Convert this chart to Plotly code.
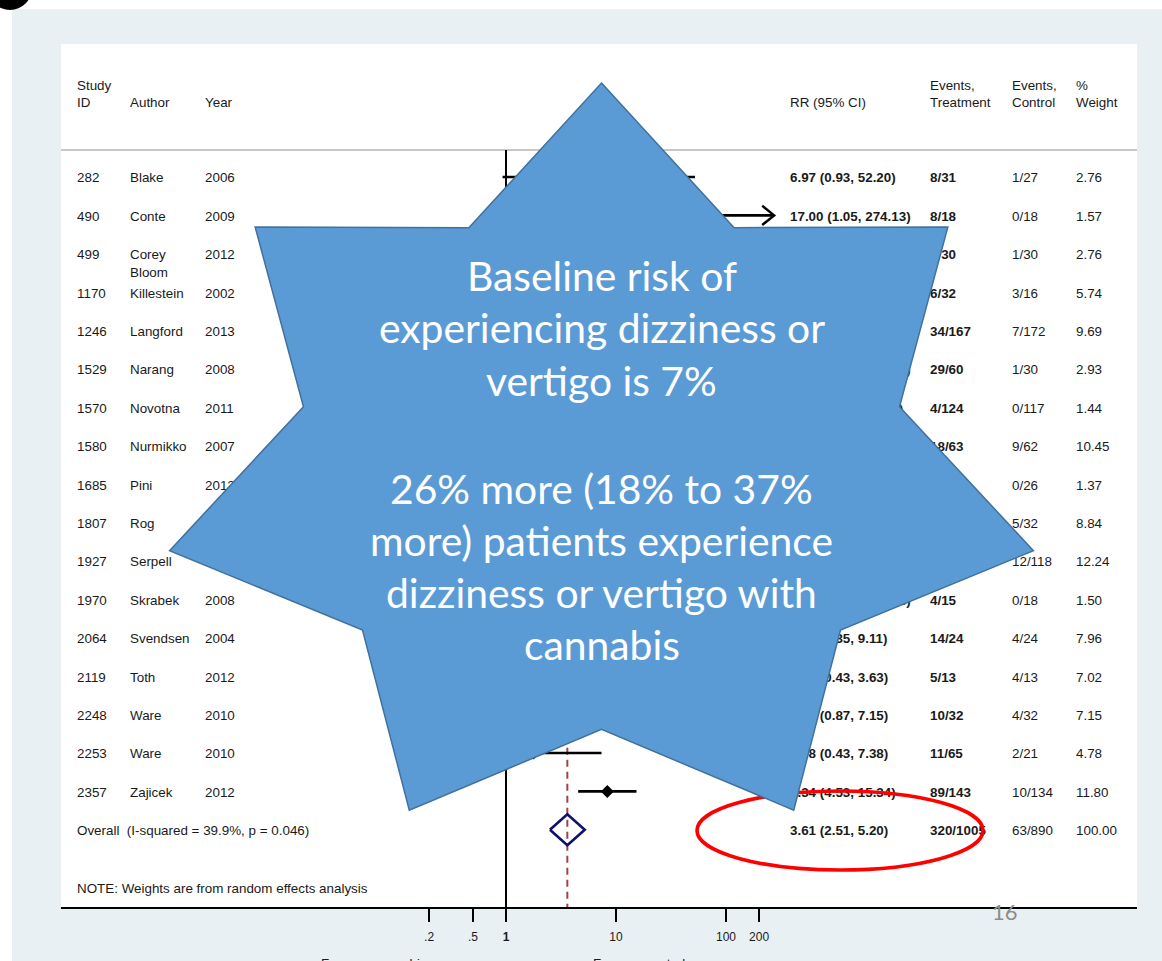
import math
import plotly.graph_objects as go

W, H = 1162, 961

# ---------------- data ----------------
study_ids = ["282", "490", "499", "1170", "1246", "1529", "1570", "1580", "1685",
             "1807", "1927", "1970", "2064", "2119", "2248", "2253", "2357"]
authors = ["Blake", "Conte", "Corey<br>Bloom", "Killestein", "Langford", "Narang",
           "Novotna", "Nurmikko", "Pini", "Rog", "Serpell", "Skrabek", "Svendsen",
           "Toth", "Ware", "Ware", "Zajicek"]
years = ["2006", "2009", "2012", "2002", "2013", "2008", "2011", "2007", "2012",
         "2005", "2014", "2008", "2004", "2012", "2010", "2010", "2012"]
rr = [6.97, 17.00, 8.00, 1.00, 5.00, 14.50, 8.50, 1.97, 5.00,
      3.39, 3.99, 10.69, 3.50, 1.25, 2.50, 1.78, 8.34]
ci_low = [0.93, 1.05, 1.07, 0.29, 2.28, 2.07, 0.46, 0.96, 0.25,
          1.43, 2.24, 0.62, 1.35, 0.43, 0.87, 0.43, 4.53]
ci_high = [52.20, 274.13, 60.08, 3.49, 10.97, 101.41, 156.14, 4.04, 99.35,
           8.05, 7.10, 183.88, 9.11, 3.63, 7.15, 7.38, 15.34]
ev_treat = ["8/31", "8/18", "8/30", "6/32", "34/167", "29/60", "4/124", "18/63", "2/26",
            "18/34", "52/128", "4/15", "14/24", "5/13", "10/32", "11/65", "89/143"]
ev_ctrl = ["1/27", "0/18", "1/30", "3/16", "7/172", "1/30", "0/117", "9/62", "0/26",
           "5/32", "12/118", "0/18", "4/24", "4/13", "4/32", "2/21", "10/134"]
weights = ["2.76", "1.57", "2.76", "5.74", "9.69", "2.93", "1.44", "10.45", "1.37",
           "8.84", "12.24", "1.50", "7.96", "7.02", "7.15", "4.78", "11.80"]

overall_label = "Overall  (I-squared = 39.9%, p = 0.046)"
overall_rr, overall_lo, overall_hi = 3.61, 2.51, 5.20
overall_treat, overall_ctrl, overall_weight = "320/1005", "63/890", "100.00"
note_text = "NOTE: Weights are from random effects analysis"

headers = ["Study<br>ID", "Author", "Year", "RR (95% CI)",
           "Events,<br>Treatment", "Events,<br>Control", "%<br>Weight"]

tick_vals = [0.2, 0.5, 1, 10, 100, 200]
tick_text = [".2", ".5", "<b>1</b>", "10", "100", "200"]

favours_left = "Favours cannabis"
favours_right = "Favours control"

star_lines = ["Baseline risk of", "experiencing dizziness or", "vertigo is 7%", "",
              "26% more (18% to 37%", "more) patients experience",
              "dizziness or vertigo with", "cannabis"]
page_number = "16"

# ---------------- geometry helpers ----------------
ROW0, ROWH = 177.0, 38.4      # pixel y of first study row, row spacing
PANEL_L, PANEL_R, PANEL_T, PANEL_B = 61, 1137, 44, 907
X_ONE_PX, DECADE_PX = 506.0, 110.0
FS = 13.4
LINE_PX = FS * 1.3
TXT = "#1a1a1a"
FONT = "Liberation Sans, Arial, sans-serif"
TEXT_SHIFT = 2.0 / ROWH       # nudge table text down to sit on the row centre


def row_of(py_):
    return (py_ - ROW0) / ROWH


def fx(x):
    return x / W


def fy(y):
    return 1 - y / H


x_r0 = -(X_ONE_PX - PANEL_L) / DECADE_PX
x_r1 = (PANEL_R - X_ONE_PX) / DECADE_PX
y_top, y_bot = row_of(PANEL_T), row_of(PANEL_B)

fig = go.Figure()

# null line at RR = 1
fig.add_trace(go.Scatter(x=[1, 1], y=[row_of(150), y_bot], mode="lines",
                         line=dict(color="black", width=2), hoverinfo="skip"))
# overall dashed line
fig.add_trace(go.Scatter(x=[overall_rr, overall_rr], y=[-0.45, y_bot], mode="lines",
                         line=dict(color="#a0424a", width=2, dash="7px,5px"),
                         hoverinfo="skip"))

# CI lines
n = len(rr)
max_tick = max(tick_vals)
for i in range(n):
    fig.add_trace(go.Scatter(x=[ci_low[i], ci_high[i]], y=[i, i], mode="lines",
                             line=dict(color="black", width=2.6), hoverinfo="skip"))
    if ci_high[i] > max_tick:
        k = 10 ** (12 / DECADE_PX)
        fig.add_trace(go.Scatter(x=[ci_high[i] / k, ci_high[i], ci_high[i] / k],
                                 y=[i - 0.25, i, i + 0.25], mode="lines",
                                 line=dict(color="black", width=2.4), hoverinfo="skip"))

# point estimates
fig.add_trace(go.Scatter(x=rr, y=list(range(n)), mode="markers",
                         marker=dict(symbol="diamond", size=10, color="black"),
                         hoverinfo="skip"))

# overall diamond
ov_row = n
dh = 15.5 / ROWH
fig.add_trace(go.Scatter(x=[overall_lo, overall_rr, overall_hi, overall_rr, overall_lo],
                         y=[ov_row, ov_row - dh, ov_row, ov_row + dh, ov_row],
                         mode="lines", line=dict(color="#10106e", width=2.6),
                         hoverinfo="skip"))

# ---------------- table text (scatter text on pixel-linear x2) ----------------
col_x = [77, 130, 205, 790, 930, 1012, 1076]


def centre(base_row, text, direction):
    nl = text.count("<br>") + 1
    return base_row + direction * (nl - 1) * LINE_PX / 2 / ROWH + TEXT_SHIFT


def add_text_col(xpx, texts, rows, bold=False):
    shown = [("<b>%s</b>" % t) if bold else t for t in texts]
    fig.add_trace(go.Scatter(x=[xpx] * len(texts), y=rows, text=shown, mode="text",
                             textposition="middle right", xaxis="x2", yaxis="y",
                             textfont=dict(family=FONT, size=FS, color=TXT),
                             hoverinfo="skip", cliponaxis=False))


hdr_row = row_of(102)
for cx, h in zip(col_x, headers):
    add_text_col(cx, [h], [centre(hdr_row, h, -1)])

body_cols = [study_ids, authors, years]
for cx, col in zip(col_x[:3], body_cols):
    add_text_col(cx, col, [centre(i, t, +1) for i, t in enumerate(col)])

rr_text = ["%.2f (%.2f, %.2f)" % (a, b, c) for a, b, c in zip(rr, ci_low, ci_high)]
rows_all = [i + TEXT_SHIFT for i in range(n + 1)]
add_text_col(col_x[3], rr_text + ["%.2f (%.2f, %.2f)" % (overall_rr, overall_lo, overall_hi)],
             rows_all, bold=True)
add_text_col(col_x[4], ev_treat + [overall_treat], rows_all, bold=True)
add_text_col(col_x[5], ev_ctrl + [overall_ctrl], rows_all)
add_text_col(col_x[6], weights + [overall_weight], rows_all)
add_text_col(col_x[0], [overall_label], [n + TEXT_SHIFT])
add_text_col(col_x[0], [note_text], [n + 1.5 + TEXT_SHIFT])

# ---------------- shapes ----------------
shapes = [
    dict(type="rect", xref="paper", yref="paper", x0=fx(12), x1=1.0, y0=0, y1=fy(9),
         fillcolor="#e9f0f3", line=dict(width=0), layer="below"),
    dict(type="rect", xref="paper", yref="paper", x0=fx(PANEL_L), x1=fx(PANEL_R),
         y0=fy(PANEL_B), y1=fy(PANEL_T), fillcolor="white", line=dict(width=0),
         layer="below"),
    dict(type="line", xref="paper", yref="paper", x0=fx(PANEL_L), x1=fx(PANEL_R),
         y0=fy(150), y1=fy(150), line=dict(color="#c8c8c8", width=2), layer="below"),
    dict(type="circle", xref="paper", yref="paper", x0=fx(697), x1=fx(983),
         y0=fy(870), y1=fy(791), line=dict(color="#ff0000", width=3.6), layer="above"),
]

# 7-point star callout
cxs, cys, Rx, Ry, ratio = 601.5, 465.5, 443.0, 382.5, 0.69
pts = []
for k in range(14):
    ang = math.radians(-90 + k * 180 / 7)
    f = 1.0 if k % 2 == 0 else ratio
    px_ = cxs + f * Rx * math.cos(ang)
    py_ = cys + f * Ry * math.sin(ang)
    pts.append("%.5f,%.5f" % (fx(px_), fy(py_)))
star_path = "M " + " L ".join(pts) + " Z"
shapes.append(dict(type="path", xref="paper", yref="paper", path=star_path,
                   fillcolor="#5b9bd5", line=dict(color="#41719c", width=1.5),
                   layer="above"))
shapes.append(dict(type="circle", xref="paper", yref="paper", x0=fx(-12), x1=fx(32),
                   y0=fy(10), y1=fy(-34), fillcolor="black", line=dict(width=0),
                   layer="above"))

# ---------------- annotations ----------------
annotations = []
star_y = [275, 327.5, 380, 432, 488.5, 540.5, 592, 644]
for t, yy in zip(star_lines, star_y):
    if not t:
        continue
    annotations.append(dict(x=fx(601.5), y=fy(yy), xref="paper", yref="paper",
                            text=t, showarrow=False, xanchor="center", yanchor="middle",
                            font=dict(family="Lato, Carlito, sans-serif", size=40.8,
                                      color="white")))
annotations.append(dict(x=fx(1005), y=fy(911), xref="paper", yref="paper",
                        text=page_number, showarrow=False, xanchor="center",
                        yanchor="middle",
                        font=dict(family="Lato, sans-serif", size=22, color="#8c8c8c")))
for t, xx in [(favours_left, 319), (favours_right, 591)]:
    annotations.append(dict(x=fx(xx), y=fy(954), xref="paper", yref="paper", text=t,
                            showarrow=False, xanchor="left", yanchor="top",
                            font=dict(family=FONT, size=FS, color=TXT)))

fig.update_layout(
    width=W, height=H, margin=dict(l=0, r=0, t=0, b=0),
    paper_bgcolor="white", plot_bgcolor="rgba(0,0,0,0)",
    showlegend=False,
    xaxis=dict(type="log", range=[x_r0, x_r1], domain=[fx(PANEL_L), fx(PANEL_R)],
               tickvals=tick_vals, ticktext=tick_text, ticks="outside", ticklen=13,
               tickwidth=2, tickcolor="black", showline=True, linecolor="black",
               linewidth=2, showgrid=False, zeroline=False, ticklabelstandoff=5,
               tickfont=dict(family=FONT, size=12, color=TXT), fixedrange=True),
    xaxis2=dict(range=[PANEL_L, PANEL_R], overlaying="x", anchor="y", visible=False,
                fixedrange=True),
    yaxis=dict(range=[y_bot, y_top], domain=[fy(PANEL_B), fy(PANEL_T)], visible=False,
               fixedrange=True),
    shapes=shapes, annotations=annotations,
)

fig.write_html("out.html")
